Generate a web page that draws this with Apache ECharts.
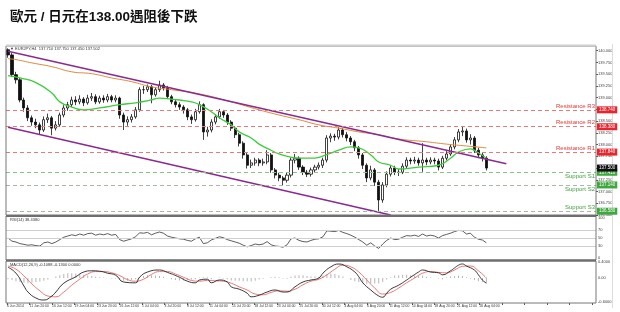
<!DOCTYPE html>
<html><head><meta charset="utf-8">
<script src="https://cdn.jsdelivr.net/npm/echarts@6/dist/echarts.min.js"></script>
<style>html,body{margin:0;padding:0;background:#fff}#c{width:620px;height:312px}</style>
</head><body><div id="c"></div>
<script>
// ---- data (EUR/JPY H4) ----
const opens = [140.02,139.91,139.49,139.38,138.95,138.78,138.57,138.48,138.42,138.31,
138.53,138.57,138.35,138.42,138.63,138.78,138.85,138.95,138.91,138.97,
138.89,138.99,139.02,138.91,138.99,138.95,139.02,138.95,138.99,138.63,
138.48,138.53,138.59,138.74,139.17,139.17,139.23,139.06,139.17,139.27,
139.21,139.02,138.91,138.85,138.80,138.74,138.59,138.53,138.70,138.85,
138.27,138.31,138.48,138.59,138.70,138.63,138.48,138.35,138.21,138.03,
137.78,137.56,137.61,137.67,137.61,137.63,137.78,137.46,137.35,137.29,
137.24,137.35,137.67,137.71,137.52,137.41,137.37,137.46,137.52,137.56,
137.67,138.14,138.18,138.16,138.31,138.21,138.14,138.06,137.93,137.78,
137.56,137.29,137.46,137.20,136.82,137.14,137.37,137.50,137.41,137.41,
137.54,137.67,137.65,137.67,137.61,137.67,137.63,137.67,137.65,137.52,
137.71,137.80,137.95,138.10,138.27,138.29,138.10,138.14,137.88,137.78,137.71];
const closes = [139.91,139.49,139.38,138.95,138.78,138.57,138.48,138.42,138.31,138.53,
138.57,138.35,138.42,138.63,138.78,138.85,138.95,138.91,138.97,138.89,
138.99,139.02,138.91,138.99,138.95,139.02,138.95,138.99,138.63,138.48,
138.53,138.59,138.74,139.17,139.17,139.23,139.06,139.17,139.27,139.21,
139.02,138.91,138.85,138.80,138.74,138.59,138.53,138.70,138.85,138.27,
138.31,138.48,138.59,138.70,138.63,138.48,138.35,138.21,138.03,137.78,
137.56,137.61,137.67,137.61,137.63,137.78,137.46,137.35,137.29,137.24,
137.35,137.67,137.71,137.52,137.41,137.37,137.46,137.52,137.56,137.67,
138.14,138.18,138.16,138.31,138.21,138.14,138.06,137.93,137.78,137.56,
137.29,137.46,137.20,136.82,137.14,137.37,137.50,137.41,137.41,137.54,
137.67,137.65,137.67,137.61,137.67,137.63,137.67,137.65,137.52,137.71,
137.80,137.95,138.10,138.27,138.29,138.10,138.14,137.88,137.78,137.71,137.50];
const lows = [139.85,139.44,139.30,138.90,138.70,138.50,138.40,138.35,138.22,138.27,
138.46,138.20,138.30,138.38,138.58,138.72,138.80,138.84,138.86,138.82,
138.85,138.93,138.86,138.87,138.89,138.90,138.90,138.90,138.55,138.31,
138.40,138.47,138.55,138.70,139.08,139.12,138.88,139.02,139.12,139.15,
138.97,138.86,138.79,138.74,138.66,138.52,138.44,138.49,138.66,138.10,
138.17,138.26,138.43,138.55,138.57,138.42,138.29,138.14,137.96,137.70,
137.49,137.50,137.55,137.54,137.55,137.58,137.40,137.28,137.22,137.12,
137.19,137.30,137.60,137.46,137.35,137.31,137.32,137.41,137.47,137.50,
137.62,138.05,138.08,138.11,138.15,138.07,137.99,137.86,137.70,137.48,
137.20,137.24,137.12,136.56,136.76,137.09,137.32,137.35,137.33,137.37,
137.50,137.58,137.59,137.55,137.42,137.56,137.58,137.58,137.45,137.48,
137.66,137.76,137.90,138.05,138.18,138.04,138.00,137.82,137.71,137.64,137.45];
const highs = [140.05,139.95,139.55,139.42,139.00,138.84,138.62,138.55,138.47,138.60,
138.66,138.61,138.50,138.68,138.84,138.91,139.02,139.03,139.05,139.01,
139.06,139.10,139.07,139.04,139.05,139.08,139.06,139.05,139.02,138.68,
138.60,138.65,138.80,139.22,139.25,139.28,139.27,139.22,139.36,139.31,
139.25,139.06,138.95,138.90,138.84,138.78,138.64,138.76,138.92,138.88,
138.38,138.54,138.65,138.76,138.74,138.67,138.52,138.39,138.25,138.07,
137.82,137.68,137.72,137.71,137.70,137.88,137.82,137.50,137.40,137.33,
137.40,137.72,137.80,137.75,137.56,137.46,137.51,137.57,137.62,137.72,
138.20,138.24,138.23,138.37,138.35,138.27,138.18,138.10,137.97,137.82,
137.60,137.55,137.50,137.25,137.20,137.43,137.56,137.55,137.48,137.60,
137.73,137.72,137.74,137.72,138.03,137.72,137.73,137.72,137.70,137.76,
137.86,138.01,138.16,138.33,138.38,138.34,138.22,138.18,137.93,137.82,137.75];
// moving averages read at sample bars: [barIndex, price]
const maFast = [[0,139.47],[3,139.42],[7,139.32],[11,139.10],[13,138.91],[16,138.80],[19,138.74],[23,138.78],[28,138.85],[32,138.89],[36,138.95],[38,138.99],[41,138.97],[43,138.95],[46,138.91],[48,138.85],[51,138.70],[53,138.57],[56,138.42],[58,138.27],[61,138.14],[63,138.01],[66,137.88],[68,137.80],[71,137.73],[73,137.71],[76,137.71],[78,137.73],[81,137.82],[83,137.88],[86,137.95],[88,137.93],[91,137.78],[93,137.63],[96,137.56],[98,137.48],[103,137.52],[108,137.56],[111,137.71],[113,137.84],[116,137.91],[118,137.82],[120,137.71]];
const maSlow = [[0,139.83],[2,139.81],[6,139.74],[11,139.66],[16,139.55],[21,139.51],[26,139.42],[31,139.34],[36,139.23],[41,139.17],[48,139.08],[56,138.91],[63,138.74],[68,138.63],[73,138.53],[78,138.42],[83,138.35],[88,138.27],[93,138.21],[98,138.12],[105,138.06],[110,138.01],[115,137.97],[120,137.93]];
const channelUpper = [[0,139.99],[125,137.59]];
const channelLower = [[0,138.37],[96,136.50]];
const levelNames = ['Resistance R3','Resistance R2','Resistance R1','Support S1','Support S2','Support S3'];
const levelValues = [138.74,138.38,137.84,137.41,137.14,136.58];
const lastPrice = 137.50;
const rsi = [50,42,40,36,34,32,33,31,30,38,
40,36,40,46,52,55,58,56,60,57,
61,62,57,60,58,61,57,59,46,42,
45,48,53,63,62,64,58,62,65,62,
55,52,50,48,47,44,42,48,52,36,
38,45,49,53,51,46,43,40,37,32,
28,31,35,33,35,41,33,30,29,27,
33,48,50,44,41,40,44,47,48,53,
68,67,66,69,64,61,57,52,46,40,
32,38,30,24,35,44,50,46,47,52,
56,55,57,54,60,55,57,55,50,56,
59,62,66,69,68,60,62,52,47,45,38];
const rsiLevels = [70,50,30];
const macdMain = [[0,0.27],[2,0.12],[4,-0.2],[5,-0.35],[7,-0.5],[9,-0.55],[11,-0.45],[12,-0.35],[14,-0.13],[17,0.03],[19,0.15],[21,0.18],[23,0.17],[25,0.12],[27,0.07],[29,-0.1],[32,-0.12],[33,0.02],[35,0.15],[38,0.2],[40,0.14],[43,0.02],[45,-0.08],[47,-0.12],[48,-0.05],[50,-0.03],[51,-0.12],[53,-0.05],[55,-0.1],[56,-0.22],[58,-0.28],[60,-0.38],[61,-0.47],[63,-0.43],[65,-0.35],[67,-0.3],[69,-0.35],[70,-0.35],[72,-0.22],[74,-0.1],[76,-0.05],[78,0],[79,0.12],[81,0.28],[83,0.35],[85,0.28],[87,0.15],[88,0.03],[89,-0.12],[91,-0.3],[93,-0.45],[94,-0.48],[95,-0.38],[96,-0.28],[98,-0.18],[100,-0.05],[101,0.02],[103,0.15],[104,0.2],[106,0.15],[108,0.13],[109,0.08],[111,0.18],[112,0.25],[113,0.32],[114,0.35],[115,0.3],[117,0.2],[118,0.08],[119,-0.05],[120,-0.13]];
const macdSignal = [[0,0.3],[2,0.22],[4,0.05],[6,-0.15],[8,-0.32],[10,-0.45],[12,-0.47],[14,-0.35],[16,-0.18],[18,-0.03],[20,0.1],[22,0.16],[24,0.16],[26,0.13],[28,0.06],[30,-0.04],[32,-0.08],[34,-0.03],[36,0.09],[38,0.16],[40,0.16],[42,0.1],[44,0.02],[46,-0.06],[48,-0.08],[50,-0.06],[52,-0.07],[54,-0.08],[56,-0.13],[58,-0.22],[60,-0.3],[62,-0.4],[64,-0.42],[66,-0.36],[68,-0.32],[70,-0.33],[72,-0.28],[74,-0.17],[76,-0.08],[78,-0.03],[80,0.08],[82,0.22],[84,0.32],[86,0.28],[88,0.15],[90,-0.05],[92,-0.25],[94,-0.4],[96,-0.36],[98,-0.25],[100,-0.12],[102,0],[104,0.12],[106,0.16],[108,0.14],[110,0.13],[112,0.2],[114,0.29],[116,0.3],[118,0.18],[120,0]];
const macdHist = [-0.03,-0.05,-0.08,-0.1,-0.12,-0.13,-0.12,-0.1,-0.09,-0.07,
-0.04,0,0.04,0.07,0.1,0.12,0.12,0.11,0.1,0.08,
0.06,0.05,0.03,0.02,0.01,0,-0.01,-0.02,-0.05,-0.07,
-0.07,-0.05,-0.03,0.02,0.05,0.07,0.07,0.06,0.05,0.03,
0,-0.03,-0.05,-0.06,-0.06,-0.05,-0.04,-0.03,0.01,0.02,
0.02,-0.03,0,0.01,-0.01,-0.03,-0.06,-0.07,-0.07,-0.08,
-0.08,-0.09,-0.07,-0.04,-0.02,0,0.02,0.03,0.02,-0.01,
-0.02,0.03,0.06,0.07,0.07,0.05,0.04,0.04,0.04,0.06,
0.1,0.11,0.1,0.07,0.04,0,-0.05,-0.08,-0.1,-0.13,
-0.15,-0.13,-0.14,-0.14,-0.1,-0.04,0.02,0.06,0.07,0.08,
0.08,0.07,0.07,0.06,0.06,0.03,0.01,0,-0.01,-0.03,
0.01,0.04,0.05,0.06,0.05,0.02,-0.02,-0.05,-0.08,-0.1,-0.12];
const dateLabels = ['6 Jun 2014','11 Jun 20:00','16 Jun 12:00','19 Jun 04:00','23 Jun 20:00','26 Jun 12:00','1 Jul 04:00','3 Jul 20:00','8 Jul 12:00','11 Jul 04:00','15 Jul 20:00','18 Jul 12:00','23 Jul 04:00','25 Jul 20:00','30 Jul 12:00','4 Aug 04:00','6 Aug 20:00','11 Aug 12:00','14 Aug 04:00','18 Aug 20:00','21 Aug 12:00','26 Aug 04:00'];
const titleText = '歐元 / 日元在138.00遇阻後下跌';
const infoText = '▼ EURJPY,H4  137.710 137.750 137.450 137.502';
const rsiText = 'RSI(14) 38.4380';
const macdText = 'MACD(12,26,9) -0.1088 -0.1300 0.0000';
const nCats = 148;

// ---- build ----
const cats = Array.from({length:nCats},(_,i)=>String(i));
const candles = opens.map((o,i)=>[o, closes[i], lows[i], highs[i]]);
const FONT = "'Liberation Sans', Arial, sans-serif";
const NARROW = "'Liberation Sans Narrow','Liberation Sans', Arial, sans-serif";
const isRes = i => i < 3;
const levelLines = levelNames.map((n,i)=>({
  name:n, yAxis:levelValues[i],
  lineStyle:{color: isRes(i)?'#e47a7a':(i===3?'#86c486':'#a5b9a5'), type:[4,3], width:1},
  label:{show:true, formatter:n, position: (i===3||i===4)?'insideEndBottom':'insideEndTop', distance:1,
    color: isRes(i)?'#e03a3a':'#3f9f3f', fontSize:6, fontFamily:FONT}
}));
const boxLines = levelValues.map((v,i)=>({
  yAxis:v, lineStyle:{color:'rgba(0,0,0,0)', width:0},
  label:{show:true, position:'end', distance:1, formatter:v.toFixed(3), color:'#fff', opacity:1,
    backgroundColor: isRes(i)?'#e5262e':'#3ea83e', fontSize:4.5, padding:[1,2], fontFamily:FONT}
})).concat([{yAxis:lastPrice, lineStyle:{color:'rgba(0,0,0,0)', width:0},
  label:{show:true, position:'end', distance:1, formatter:lastPrice.toFixed(3), color:'#fff', opacity:1,
    backgroundColor:'#111', fontSize:4.5, padding:[1,2], fontFamily:FONT}}]);

const hiddenCat = (gi)=>({type:'category', gridIndex:gi, data:cats, boundaryGap:true, show:false});
const chart = echarts.init(document.getElementById('c'), null, {renderer:'canvas'});
chart.setOption({
  animation:false,
  backgroundColor:'#fff',
  title:{text:titleText, left:5, top:6, textStyle:{fontSize:13.5, fontWeight:'bold', color:'#111', fontFamily:"'Liberation Sans','Noto Sans CJK TC',sans-serif"}},
  grid:[
    {left:6, top:46, width:590, height:169, outerBoundsMode:'none'},
    {left:6, top:218, width:590, height:40, outerBoundsMode:'none'},
    {left:6, top:262, width:590, height:40, outerBoundsMode:'none'},
    {left:7, top:262, width:589, height:41, outerBoundsMode:'none'}
  ],
  xAxis:[hiddenCat(0), hiddenCat(1), hiddenCat(2),
    {type:'value', gridIndex:3, min:0, max:26.18, interval:1, position:'bottom',
     axisLine:{show:false}, splitLine:{show:false},
     axisTick:{show:true, length:2, lineStyle:{color:'#555'}},
     axisLabel:{fontSize:3.4, margin:2, align:'left', color:'#333', fontFamily:NARROW, showMaxLabel:false, hideOverlap:false,
       formatter:v=>dateLabels[Math.round(v)]||''}}],
  yAxis:[
    {type:'value', gridIndex:0, position:'right', min:136.5, max:140.1, interval:0.25, scale:true,
     axisLine:{show:false}, splitLine:{show:false},
     axisTick:{show:true, length:2, lineStyle:{color:'#555'}},
     axisLabel:{fontSize:4, margin:2, color:'#444', fontFamily:FONT, showMaxLabel:false, formatter:v=>v.toFixed(3)}},
    {type:'value', gridIndex:1, position:'right', min:0, max:100, interval:10,
     axisLine:{show:false}, splitLine:{show:false}, axisTick:{show:false},
     axisLabel:{fontSize:4, margin:2, color:'#444', fontFamily:FONT,
       formatter:v=>([0,30,50,70,100].indexOf(v)>=0? String(v):'')}},
    {type:'value', gridIndex:2, position:'right', min:-0.6, max:0.4, interval:0.2,
     axisLine:{show:false}, splitLine:{show:false}, axisTick:{show:false},
     axisLabel:{fontSize:4, margin:2, color:'#444', fontFamily:FONT,
       formatter:v=>(Math.abs(v)<1e-9?'0.00':(Math.abs(v-0.4)<1e-9||Math.abs(v+0.6)<1e-9? v.toFixed(4):''))}},
    {type:'value', gridIndex:3, min:0, max:1, show:false}
  ],
  graphic:[
    {type:'rect', shape:{x:6,y:46,width:590,height:169}, style:{fill:'none', stroke:'#777', lineWidth:1}, z:10, silent:true},
    {type:'line', shape:{x1:6,y1:45.5,x2:596,y2:45.5}, style:{stroke:'#cfcfcf', lineWidth:2}, z:10, silent:true},
    {type:'line', shape:{x1:6,y1:216,x2:596,y2:216}, style:{stroke:'#666', lineWidth:2}, z:10, silent:true},
    {type:'rect', shape:{x:6,y:216,width:590,height:44}, style:{fill:'none', stroke:'#777', lineWidth:1}, z:10, silent:true},
    {type:'line', shape:{x1:6,y1:260.5,x2:596,y2:260.5}, style:{stroke:'#666', lineWidth:2}, z:10, silent:true},
    {type:'rect', shape:{x:6,y:261,width:590,height:42}, style:{fill:'none', stroke:'#777', lineWidth:1}, z:10, silent:true},
    {type:'line', shape:{x1:612.5,y1:44,x2:612.5,y2:308}, style:{stroke:'#dcdcdc', lineWidth:1}, z:10, silent:true},
    {type:'text', left:10, top:47, style:{text:infoText, fontSize:4, fill:'#333', fontFamily:FONT}, z:11},
    {type:'text', left:10, top:218, style:{text:rsiText, fontSize:4, fill:'#333', fontFamily:FONT}, z:11},
    {type:'text', left:10, top:263, style:{text:macdText, fontSize:4, fill:'#333', fontFamily:FONT}, z:11}
  ],
  series:[
    {type:'candlestick', xAxisIndex:0, yAxisIndex:0, data:candles, barWidth:2.6,
     itemStyle:{color:'#ffffff', color0:'#111', borderColor:'#111', borderColor0:'#111', borderWidth:0.8},
     markLine:{symbol:'none', silent:true, animation:false, data:levelLines}},
    {type:'line', xAxisIndex:0, yAxisIndex:0, data:maSlow, smooth:true, symbol:'none',
     lineStyle:{color:'#e0893a', width:1}},
    {type:'line', xAxisIndex:0, yAxisIndex:0, data:maFast, smooth:true, symbol:'none',
     lineStyle:{color:'#3ccc3c', width:1.3},
     markLine:{symbol:'none', silent:true, animation:false, z:20, data:boxLines}},
    {type:'line', xAxisIndex:0, yAxisIndex:0, data:channelUpper, symbol:'none',
     lineStyle:{color:'#8a2a8f', width:1.5}},
    {type:'line', xAxisIndex:0, yAxisIndex:0, data:channelLower, symbol:'none',
     lineStyle:{color:'#8a2a8f', width:1.5}},
    {type:'line', xAxisIndex:1, yAxisIndex:1, data:rsi, symbol:'none',
     lineStyle:{color:'#333', width:0.8},
     markLine:{symbol:'none', silent:true, animation:false, label:{show:false},
       data:rsiLevels.map(v=>({yAxis:v, lineStyle:{color:'#cfcfcf', type:'solid', width:1}}))}},
    {type:'bar', xAxisIndex:2, yAxisIndex:2, data:macdHist, barWidth:1, itemStyle:{color:'#b5b5b5'}},
    {type:'line', xAxisIndex:2, yAxisIndex:2, data:macdSignal, smooth:true, symbol:'none',
     lineStyle:{color:'#e46a6a', width:0.9}},
    {type:'line', xAxisIndex:2, yAxisIndex:2, data:macdMain, smooth:true, symbol:'none',
     lineStyle:{color:'#222', width:0.9}}
  ]
});
</script></body></html>
